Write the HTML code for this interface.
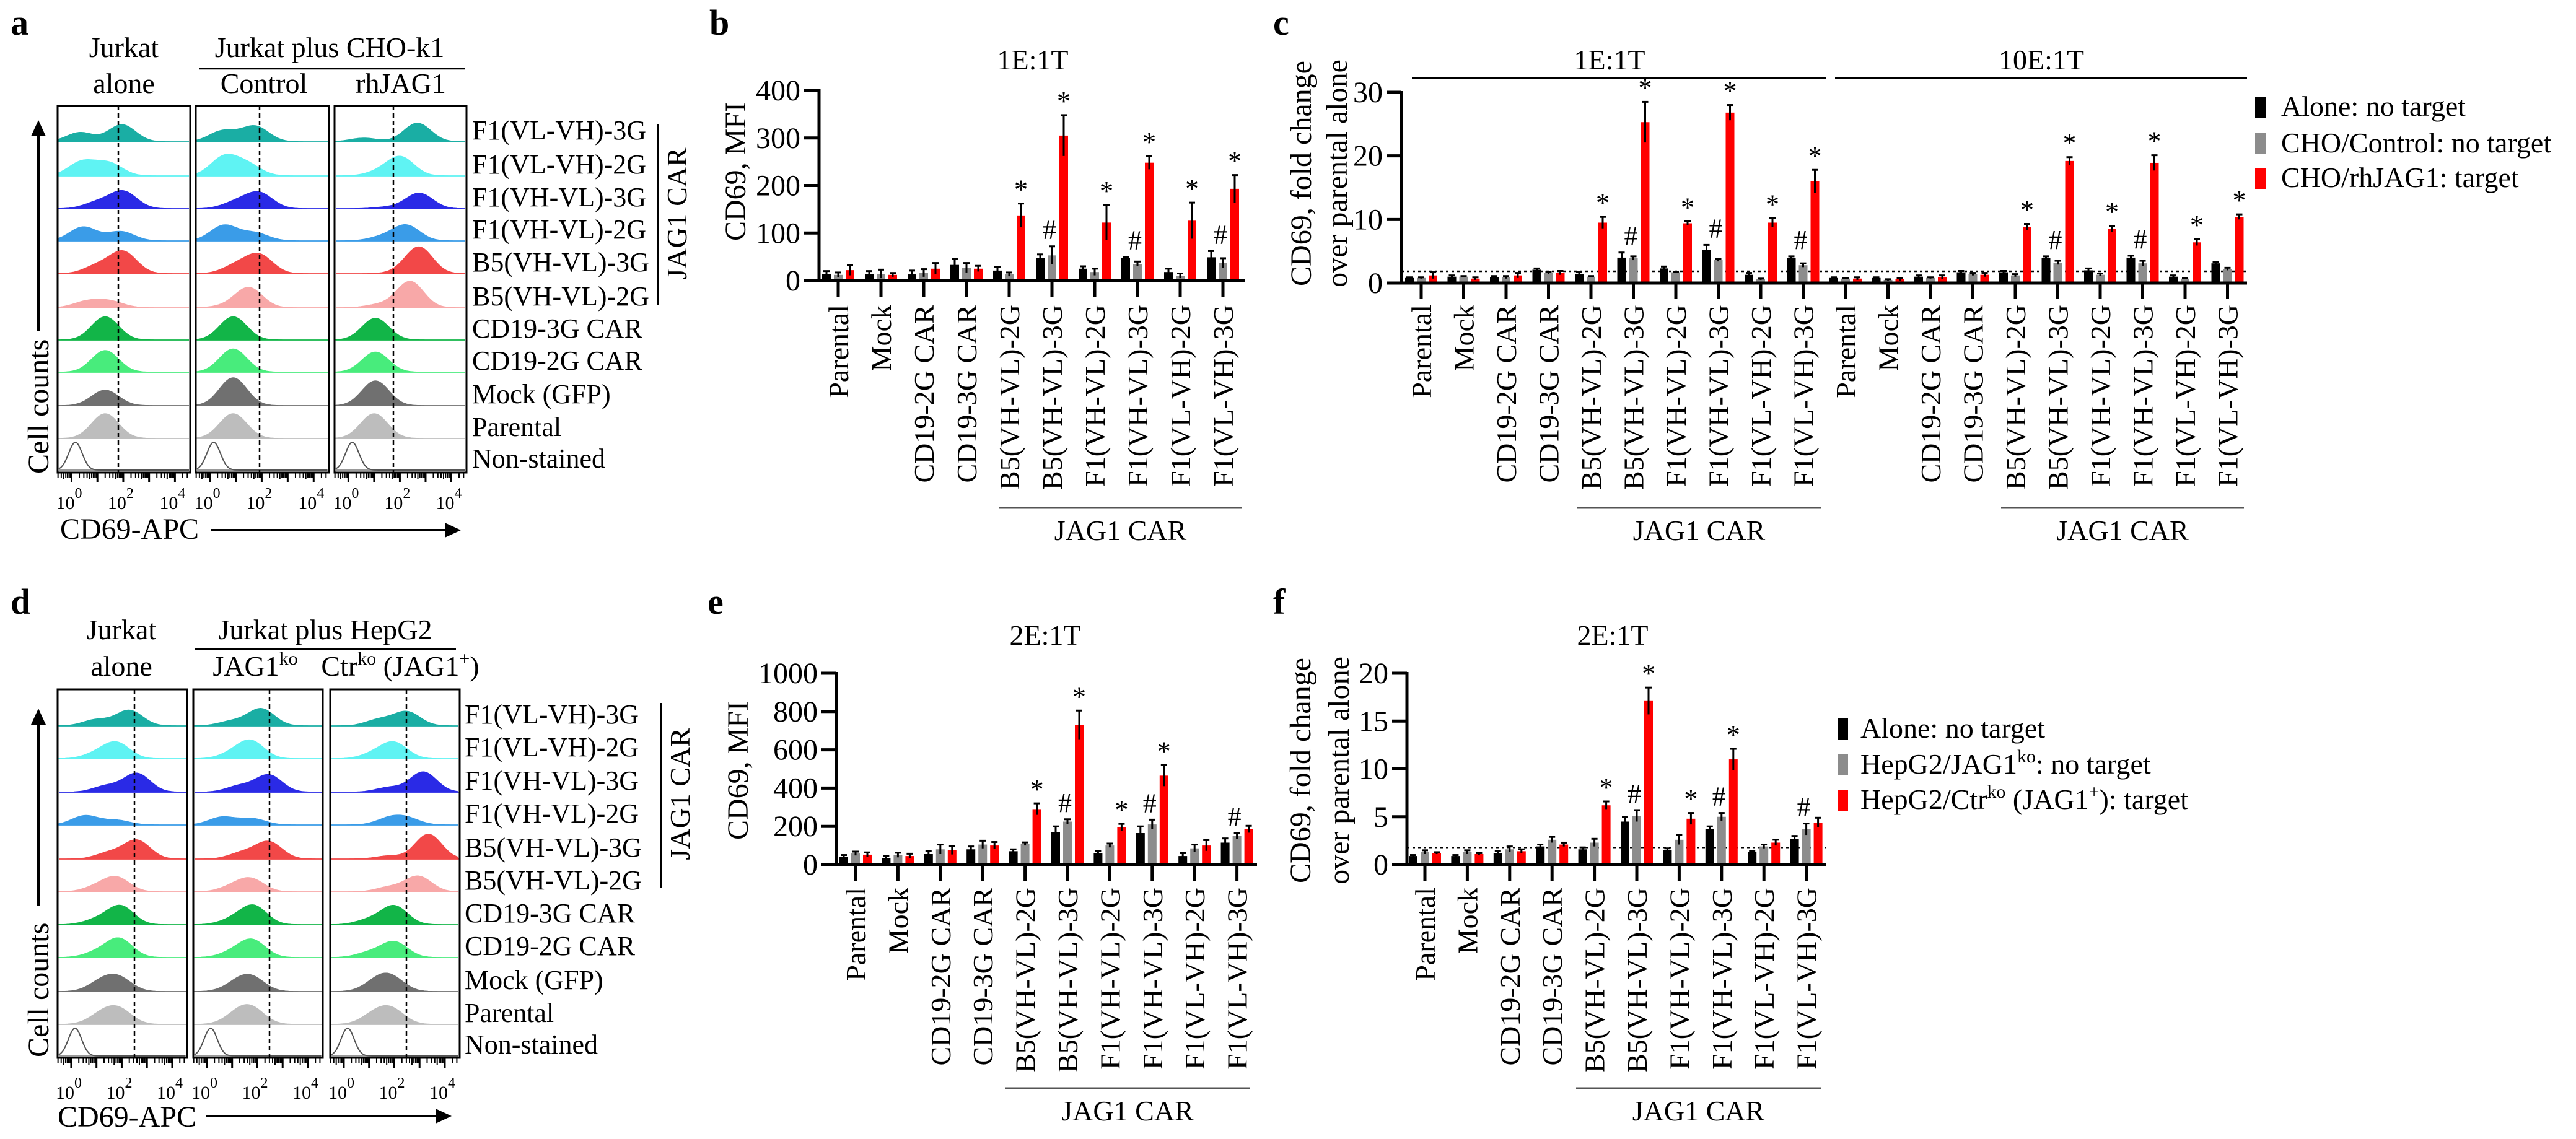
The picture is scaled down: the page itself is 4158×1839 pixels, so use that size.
<!DOCTYPE html>
<html><head><meta charset="utf-8"><style>
html,body{margin:0;padding:0;background:#fff}
svg{display:block;font-family:"Liberation Serif","DejaVu Serif",serif}
text{font-family:"Liberation Serif","DejaVu Serif",serif;fill:#000}
</style></head><body>
<svg id="fig" xmlns="http://www.w3.org/2000/svg" width="4158" height="1839" viewBox="0 0 4158 1839" font-family="Liberation Serif, DejaVu Serif, serif">
<g>
<text x="17" y="56" font-size="58" font-weight="bold">a</text>
<text x="1145" y="56" font-size="58" font-weight="bold">b</text>
<text x="2055" y="56" font-size="58" font-weight="bold">c</text>
<text x="17" y="991" font-size="58" font-weight="bold">d</text>
<text x="1142" y="991" font-size="58" font-weight="bold">e</text>
<text x="2055" y="991" font-size="58" font-weight="bold">f</text>

<text x="200" y="92" font-size="46" text-anchor="middle">Jurkat</text>
<text x="200" y="150" font-size="46" text-anchor="middle">alone</text>
<text x="532" y="92" font-size="46" text-anchor="middle">Jurkat plus CHO-k1</text>
<line x1="321" y1="111" x2="750" y2="111" stroke="#000" stroke-width="2.5"/>
<text x="426" y="150" font-size="46" text-anchor="middle">Control</text>
<text x="647" y="150" font-size="46" text-anchor="middle">rhJAG1</text>

<text x="196" y="1032" font-size="46" text-anchor="middle">Jurkat</text>
<text x="196" y="1091" font-size="46" text-anchor="middle">alone</text>
<text x="525" y="1032" font-size="46" text-anchor="middle">Jurkat plus HepG2</text>
<line x1="315" y1="1048" x2="736" y2="1048" stroke="#000" stroke-width="2.5"/>
<text x="412" y="1091" font-size="46" text-anchor="middle">JAG1<tspan font-size="30" dy="-18">ko</tspan></text>
<text x="646" y="1091" font-size="46" text-anchor="middle">Ctr<tspan font-size="30" dy="-18">ko</tspan><tspan dy="18"> (JAG1</tspan><tspan font-size="30" dy="-18">+</tspan><tspan dy="18">)</tspan></text>

<text x="1667" y="112" font-size="46" text-anchor="middle">1E:1T</text>
<text x="2598" y="112" font-size="46" text-anchor="middle">1E:1T</text>
<line x1="2279" y1="126" x2="2947" y2="126" stroke="#000" stroke-width="3"/>
<text x="3295" y="112" font-size="46" text-anchor="middle">10E:1T</text>
<line x1="2962" y1="126" x2="3627" y2="126" stroke="#000" stroke-width="3"/>
<text x="1687" y="1041" font-size="46" text-anchor="middle">2E:1T</text>
<text x="2603" y="1041" font-size="46" text-anchor="middle">2E:1T</text>

<g>
<rect x="3640" y="156" width="17" height="34" fill="#000"/>
<text x="3682" y="187" font-size="46">Alone: no target</text>
<rect x="3640" y="215" width="17" height="34" fill="#8c8c8c"/>
<text x="3682" y="246" font-size="46">CHO/Control: no target</text>
<rect x="3640" y="271" width="17" height="34" fill="#ff0000"/>
<text x="3682" y="302" font-size="46">CHO/rhJAG1: target</text>
</g>
<g>
<rect x="2966" y="1160" width="17" height="34" fill="#000"/>
<text x="3003" y="1191" font-size="46">Alone: no target</text>
<rect x="2966" y="1218" width="17" height="34" fill="#8c8c8c"/>
<text x="3003" y="1249" font-size="46">HepG2/JAG1<tspan font-size="30" dy="-18">ko</tspan><tspan dy="18">: no target</tspan></text>
<rect x="2966" y="1275" width="17" height="34" fill="#ff0000"/>
<text x="3003" y="1306" font-size="46">HepG2/Ctr<tspan font-size="30" dy="-18">ko</tspan><tspan dy="18"> (JAG1</tspan><tspan font-size="30" dy="-18">+</tspan><tspan dy="18">): target</tspan></text>
</g>
</g>
</svg>
<script>
// ---------- bar chart data ----------
const catsShort = ['Parental','Mock','CD19-2G CAR','CD19-3G CAR','B5(VH-VL)-2G','B5(VH-VL)-3G','F1(VH-VL)-2G','F1(VH-VL)-3G','F1(VL-VH)-2G','F1(VL-VH)-3G'];
const ticksB = [0,100,200,300,400];
const aloneB = [14,14,13,33,21,48,25,47,18,49];
const ctrlB  = [12,14,16,27,13,53,18,35,10,37];
const targB  = [22,12,25,25,137,305,122,248,126,193];
const errAloneB = [6,6,8,13,8,7,5,3,7,13];
const errCtrlB  = [5,9,8,10,4,19,7,5,5,10];
const errTargB  = [11,4,12,6,25,43,37,14,38,29];
const starB = [4,5,6,7,8,9];
const hashB = [5,7,9];

const catsC = catsShort.concat(catsShort);
const ticksC = [0,10,20,30];
const aloneC = [0.8,1.0,0.9,2.1,1.4,4.0,2.3,5.2,1.3,3.9, 0.8,0.8,1.0,1.7,1.7,3.9,2.0,4.0,1.0,3.1];
const ctrlC  = [0.8,1.0,0.9,1.6,1.0,3.9,1.7,3.6,0.6,2.8, 0.7,0.5,0.8,1.4,1.2,3.2,1.3,3.1,0.7,2.2];
const targC  = [1.2,0.7,1.2,1.6,9.5,25.3,9.4,26.8,9.5,16.0, 0.7,0.6,0.9,1.3,8.8,19.2,8.5,18.9,6.4,10.4];
const errAloneC = [0.1,0.2,0.2,0.2,0.3,0.8,0.3,0.8,0.3,0.3, 0.1,0.1,0.2,0.2,0.2,0.3,0.3,0.3,0.2,0.2];
const errCtrlC  = [0.1,0.1,0.2,0.2,0.1,0.3,0.1,0.2,0.1,0.3, 0.1,0.1,0.1,0.2,0.2,0.3,0.2,0.4,0.1,0.2];
const errTargC  = [0.5,0.2,0.4,0.3,0.9,3.2,0.3,1.2,0.7,1.8, 0.2,0.2,0.3,0.3,0.5,0.6,0.5,1.2,0.5,0.4];
const refC = 1.85;
const starC = [4,5,6,7,8,9,14,15,16,17,18,19];
const hashC = [5,7,9,15,17];

const ticksE = [0,200,400,600,800,1000];
const aloneE = [40,35,55,80,70,170,60,165,45,115];
const ctrlE  = [58,50,80,105,108,225,100,210,85,150];
const targE  = [52,45,75,100,290,730,195,465,100,185];
const errAloneE = [10,10,15,15,10,30,10,35,15,22];
const errCtrlE  = [10,12,25,20,8,12,10,25,20,15];
const errTargE  = [12,12,22,18,30,75,18,55,28,18];
const starE = [4,5,6,7];
const hashE = [5,7,9];

const ticksF = [0,5,10,15,20];
const aloneF = [0.9,0.9,1.2,1.9,1.6,4.5,1.5,3.7,1.3,2.7];
const ctrlF  = [1.3,1.3,1.6,2.6,2.3,5.1,2.6,5.0,1.9,3.7];
const targF  = [1.2,1.1,1.4,2.1,6.2,17.1,4.8,11.0,2.3,4.4];
const errAloneF = [0.1,0.1,0.2,0.2,0.2,0.5,0.2,0.3,0.1,0.3];
const errCtrlF  = [0.2,0.2,0.3,0.3,0.4,0.6,0.5,0.4,0.2,0.6];
const errTargF  = [0.1,0.1,0.2,0.2,0.4,1.4,0.6,1.1,0.3,0.5];
const refF = 1.8;
const starF = [4,5,6,7];
const hashF = [5,7,9];

// ---------- histogram data: [mu1,h1,mu2,h2] in decades / fraction of row ----------
const rowLabels = ['F1(VL-VH)-3G','F1(VL-VH)-2G','F1(VH-VL)-3G','F1(VH-VL)-2G','B5(VH-VL)-3G','B5(VH-VL)-2G','CD19-3G CAR','CD19-2G CAR','Mock (GFP)','Parental','Non-stained'];
const rowFill = ['#1aaea4','#5ff3f3','#2a2ae6','#3a9ce8','#f24848','#f8a8a8','#12b548','#48ec7c','#707070','#bdbdbd','none'];
const rowLine = ['#8fd8d4','#a8f6f6','#8a8af0','#9ccaf2','#f4a0a0','#fad0d0','#8edca8','#a6f4c0','#b0b0b0','#dedede','#999'];
const histA = [
 [[0.33,.3,1.95,.55],[0.5,.35,1.74,.5],[0.6,.12,2.68,.6]],
 [[0.4,.45,1.45,.4],[0.55,.6,1.45,.35],[1.2,.12,2.03,.6]],
 [[1.0,.2,2.0,.55],[1.0,.2,1.9,.5],[1.5,.05,2.75,.5]],
 [[0.45,.45,1.9,.3],[0.55,.5,1.74,.25],[1.3,.12,2.25,.5]],
 [[1.0,.25,2.0,.7],[1.0,.25,1.9,.6],[2.0,.05,2.75,.85]],
 [[0.6,.2,1.5,.2],[0.6,.05,1.5,.65],[1.2,.1,2.4,.85]],
 [[1.3,.75,0,0],[0.9,.75,0,0],[1.05,.7,0,0]],
 [[1.3,.7,0,0],[0.9,.75,0,0],[1.05,.65,0,0]],
 [[1.3,.5,0,0],[0.9,.9,0,0],[1.05,.8,0,0]],
 [[1.3,.8,0,0],[0.9,.8,0,0],[1.0,.8,0,0]],
 [[0.15,.9,0,0],[0.15,.9,0,0],[0.15,.9,0,0]]
];
const histD = [
 [[1.0,.2,2.3,.5],[1.0,.15,2.15,.55],[1.4,.2,2.5,.45]],
 [[1.0,.15,1.8,.5],[1.0,.15,1.75,.55],[1.2,.15,2.0,.5]],
 [[1.4,.2,2.6,.6],[1.3,.2,2.45,.55],[1.8,.15,3.15,.65]],
 [[0.55,.3,1.8,.15],[0.6,.25,1.8,.2],[1.8,.2,2.5,.2]],
 [[1.5,.2,2.6,.6],[1.4,.2,2.45,.55],[1.8,.1,3.35,.8]],
 [[1.0,.15,1.8,.45],[1.0,.15,1.75,.4],[1.8,.15,2.95,.5]],
 [[1.0,.15,1.95,.6],[1.0,.15,1.85,.6],[1.0,.15,2.0,.6]],
 [[1.0,.15,1.9,.6],[1.0,.15,1.8,.55],[1.0,.15,2.0,.5]],
 [[1.2,.3,1.9,.4],[1.2,.25,1.8,.4],[1.3,.3,1.9,.4]],
 [[1.2,.3,1.9,.45],[1.2,.3,1.8,.45],[1.2,.3,1.9,.45]],
 [[0.15,.9,0,0],[0.15,.9,0,0],[0.15,.9,0,0]]
];

const NS='http://www.w3.org/2000/svg';
const svg=document.getElementById('fig');
function mk(tag, name, attrs, parent){
  const el=document.createElementNS(NS,tag);
  for(const k in attrs) el.setAttribute(k, attrs[k]);
  
  
  (parent||svg).appendChild(el);
  return el;
}
function txt(name, x, y, s, size, anchor, rot, parent){
  const a={x:x,y:y,'font-size':size,'text-anchor':anchor||'start','font-family':'Liberation Serif, DejaVu Serif, serif'};
  if(rot) a.transform='rotate(-90 '+x+' '+y+')';
  const t=mk('text', name, a, parent);
  t.textContent=s;
  return t;
}

// ---------- histogram panels ----------
function histPanel(id, boxes, top, bottom, rowBase, dash, data, labelX, bracket, tickY){
  const g=mk('g', id+'-histograms', {});
  const sig=0.52, rowH=50;
  boxes.forEach((bx,bi)=>{
    const L=bx[0], R=bx[1], W=R-L;
    const dToX=d=>L+W*(0.105+0.195*d);
    rowBase.forEach((yb,ri)=>{
      const p=data[ri][bi];
      const s=ri===10?0.26:sig;
      let pts=[];
      for(let x=L+2;x<=R-2;x+=2){
        const d=((x-L)/W-0.105)/0.195;
        let v=p[1]*Math.exp(-((d-p[0])**2)/(2*s*s));
        if(p[3]) v+=p[3]*Math.exp(-((d-p[2])**2)/(2*s*s));
        pts.push([x, yb-rowH*v]);
      }
      mk('line', 'hist-baseline-'+ri+'-'+bi, {x1:L+2,y1:yb,x2:R-2,y2:yb,stroke:rowLine[ri],'stroke-width':2}, g);
      let dpath='M'+pts.map(q=>q[0].toFixed(1)+','+q[1].toFixed(1)).join(' L');
      if(ri===10){
        mk('path', 'hist-nonstained-'+bi, {d:dpath,fill:'none',stroke:'#555','stroke-width':2}, g);
      } else {
        mk('path', 'hist-'+ri+'-'+bi, {d:dpath+' L'+(R-2)+','+yb+' L'+(L+2)+','+yb+' Z',fill:rowFill[ri],stroke:rowFill[ri],'stroke-width':1.5}, g);
      }
    });
    mk('rect', id+'-box-'+bi, {x:L,y:top,width:W,height:bottom-top,fill:'none',stroke:'#000','stroke-width':3}, g);
    mk('line', id+'-gate-'+bi, {x1:dash[bi],y1:top,x2:dash[bi],y2:bottom,stroke:'#000','stroke-width':2.5,'stroke-dasharray':'7,5'}, g);
    for(let dec=-1;dec<=4;dec++){
      for(let m=1;m<10;m++){
        const d=dec+Math.log10(m);
        const x=dToX(d);
        if(x<L||x>R) continue;
        const len=m===1?16:(m===5?11:8);
        mk('line', 'x-tick-'+bi, {x1:x,y1:bottom,x2:x,y2:bottom+len,stroke:'#000','stroke-width':m===1?3:2}, g);
      }
    }
    [0,2,4].forEach(e=>{
      const x=dToX(e);
      const t=mk('text', 'x-tick-label-10e'+e, {x:x-4,y:tickY,'font-size':30,'text-anchor':'middle','font-family':'Liberation Serif, DejaVu Serif, serif'}, g);
      t.textContent='10';
      const s=mk('tspan', 'x-tick-exponent', {dy:-18,'font-size':24}, t);
      s.textContent=String(e);
    });
  });
  rowBase.forEach((yb,ri)=>{
    txt('row-label-'+ri, labelX, yb-4, rowLabels[ri], 44, 'start', false, g);
  });
  mk('line', id+'-jag1-bracket', {x1:bracket.x,y1:bracket.y1,x2:bracket.x,y2:bracket.y2,stroke:'#000','stroke-width':2.5}, g);
  txt(id+'-jag1-car-label', bracket.x+46, bracket.cy, 'JAG1 CAR', 46, 'middle', true, g);
}
histPanel('a', [[93,307],[316,531],[540,753]], 171, 763,
  [229,284,337,389,442,497,549,601,655,708,759], [191,419,635], histA, 762,
  {x:1062,y1:200,y2:492,cy:345}, 822);
histPanel('d', [[93,302],[312,521],[533,742]], 1113, 1708,
  [1172,1225,1279,1332,1387,1440,1493,1546,1601,1654,1705], [217,435,656], histD, 750,
  {x:1067,y1:1135,y2:1433,cy:1282}, 1774);
[[62,765,535,194,97,870,341,744,856],[62,1707,1462,1144,93,1819,333,729,1802]].forEach((c,i)=>{
  const p=i?'d':'a';
  txt(p+'-cell-counts-label', c[0]+16, c[1], 'Cell counts', 48, 'start', true);
  mk('line', p+'-cell-counts-arrow', {x1:c[0],y1:c[2],x2:c[0],y2:c[3]+20,stroke:'#000','stroke-width':4});
  mk('path', p+'-cell-counts-arrowhead', {d:'M'+(c[0]-12)+','+(c[3]+26)+' L'+c[0]+','+c[3]+' L'+(c[0]+12)+','+(c[3]+26)+' Z',fill:'#000'});
  txt(p+'-cd69-apc-label', c[4], c[5], 'CD69-APC', 48, 'start');
  mk('line', p+'-cd69-apc-arrow', {x1:c[6],y1:c[8],x2:c[7]-20,y2:c[8],stroke:'#000','stroke-width':4});
  mk('path', p+'-cd69-apc-arrowhead', {d:'M'+(c[7]-26)+','+(c[8]-12)+' L'+c[7]+','+c[8]+' L'+(c[7]-26)+','+(c[8]+12)+' Z',fill:'#000'});
});

// ---------- bar charts ----------
function barChart(o){
  const g=mk('g', o.id+'-chart', {});
  const y=v=>o.y0-v*(o.pxMax/o.max);
  const x=i=>o.x0+i*o.step;
  const series=[[o.a,o.ea,'#000'],[o.c,o.ec,'#8c8c8c'],[o.t,o.et,'#ff0000']];
  const offs=[-19,0,19], bw=14;
  if(o.ref!==undefined){
    mk('line', o.id+'-reference-line', {x1:o.ax,y1:y(o.ref),x2:o.xEnd,y2:y(o.ref),stroke:'#000','stroke-width':2.5,'stroke-dasharray':'4,5'}, g);
  }
  o.cats.forEach((c,i)=>{
    series.forEach((s,si)=>{
      const v=s[0][i], e=s[1][i];
      const cx=x(i)+offs[si];
      mk('rect', o.id+'-bar-'+si+'-'+i, {x:cx-bw/2,y:y(v),width:bw,height:o.y0-y(v),fill:s[2]}, g);
      mk('line', o.id+'-errorbar-'+si+'-'+i, {x1:cx,y1:y(v+e),x2:cx,y2:y(Math.max(0,v-e)),stroke:'#000','stroke-width':3}, g);
      mk('line', o.id+'-errorcap-'+si+'-'+i, {x1:cx-5,y1:y(v+e),x2:cx+5,y2:y(v+e),stroke:'#000','stroke-width':3}, g);
    });
    mk('line', o.id+'-x-tick-'+i, {x1:x(i),y1:o.y0,x2:x(i),y2:o.y0+26,stroke:'#000','stroke-width':5}, g);
    txt(o.id+'-category-'+i, x(i)+16, o.labTop, c, 46, 'end', true, g);
  });
  o.stars.forEach(i=>{
    txt(o.id+'-star-'+i, x(i)+19, y(o.t[i]+o.et[i])-8, '*', 44, 'middle', false, g);
  });
  o.hashes.forEach(i=>{
    const t=txt(o.id+'-hash-'+i, x(i)-4, y(Math.max(o.a[i]+o.ea[i],o.c[i]+o.ec[i]))-12, '#', 44, 'middle', false, g);
    t.setAttribute('fill','#444');
  });
  mk('line', o.id+'-y-axis', {x1:o.ax,y1:y(o.max)-2,x2:o.ax,y2:o.y0+2.5,stroke:'#000','stroke-width':5}, g);
  mk('line', o.id+'-x-axis', {x1:o.ax-2.5,y1:o.y0,x2:o.xEnd,y2:o.y0,stroke:'#000','stroke-width':5}, g);
  o.ticks.forEach(tv=>{
    mk('line', o.id+'-y-tick-'+tv, {x1:o.ax-24,y1:y(tv),x2:o.ax,y2:y(tv),stroke:'#000','stroke-width':5}, g);
    txt(o.id+'-y-tick-label-'+tv, o.ax-30, y(tv)+16, String(tv), 48, 'end', false, g);
  });
  o.ylab.forEach((l,k)=>txt(o.id+'-y-axis-title-'+k, l[0], o.ylabCy, l[1], 48, 'middle', true, g));
  o.groups.forEach((gr,k)=>{
    mk('line', o.id+'-jag1-group-line-'+k, {x1:gr[0],y1:o.grpY,x2:gr[1],y2:o.grpY,stroke:'#555','stroke-width':3}, g);
    txt(o.id+'-jag1-group-label-'+k, (gr[0]+gr[1])/2, o.grpY+52, 'JAG1 CAR', 46, 'middle', false, g);
  });
}
barChart({id:'b',cats:catsShort,a:aloneB,c:ctrlB,t:targB,ea:errAloneB,ec:errCtrlB,et:errTargB,stars:starB,hashes:hashB,
  ticks:ticksB,max:400,pxMax:307,y0:453,x0:1353,step:69,ax:1322,xEnd:2009,labTop:492,
  ylab:[[1203,'CD69, MFI']],ylabCy:277,groups:[[1612,2005]],grpY:820});
barChart({id:'c',cats:catsC,a:aloneC,c:ctrlC,t:targC,ea:errAloneC,ec:errCtrlC,et:errTargC,stars:starC,hashes:hashC,ref:refC,
  ticks:ticksC,max:30,pxMax:308,y0:457,x0:2294,step:68.5,ax:2262,xEnd:3627,labTop:492,
  ylab:[[2116,'CD69, fold change'],[2174,'over parental alone']],ylabCy:280,groups:[[2545,2940],[3230,3622]],grpY:820});
barChart({id:'e',cats:catsShort,a:aloneE,c:ctrlE,t:targE,ea:errAloneE,ec:errCtrlE,et:errTargE,stars:starE,hashes:hashE,
  ticks:ticksE,max:1000,pxMax:309,y0:1396,x0:1381,step:68.4,ax:1350,xEnd:2029,labTop:1433,
  ylab:[[1207,'CD69, MFI']],ylabCy:1244,groups:[[1623,2017]],grpY:1757});
barChart({id:'f',cats:catsShort,a:aloneF,c:ctrlF,t:targF,ea:errAloneF,ec:errCtrlF,et:errTargF,stars:starF,hashes:hashF,ref:refF,
  ticks:ticksF,max:20,pxMax:309,y0:1396,x0:2300,step:68.4,ax:2271,xEnd:2947,labTop:1433,
  ylab:[[2115,'CD69, fold change'],[2177,'over parental alone']],ylabCy:1244,groups:[[2544,2939]],grpY:1757});
</script>
</body></html>
